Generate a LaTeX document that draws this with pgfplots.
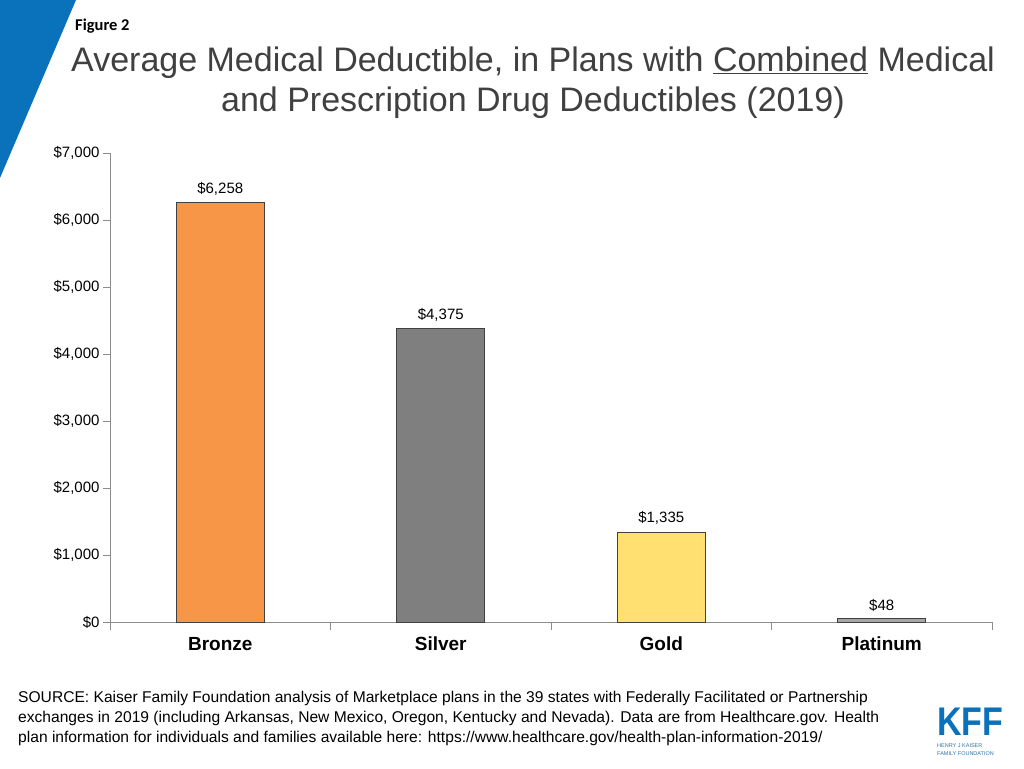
\documentclass[border=0pt]{standalone}
\usepackage{fontspec}
\setmainfont{Liberation Sans}
\newfontfamily\carlito{Carlito}
\usepackage{pgfplots}
\pgfplotsset{compat=1.18}
\definecolor{kblue}{HTML}{0A72BA}
\definecolor{titlegray}{HTML}{404040}
\definecolor{axgray}{HTML}{8C8C8C}
\definecolor{bronze}{HTML}{F79646}
\definecolor{silver}{HTML}{7F7F7F}
\definecolor{gold}{HTML}{FFE070}
\definecolor{plat}{HTML}{A6A6A6}
\begin{document}
\begin{tikzpicture}[x=1pt,y=1pt]
\useasboundingbox (0,0) rectangle (1024,768);
\fill[white] (0,0) rectangle (1024,768);
\fill[kblue] (0,768) -- (76,768) -- (0,590) -- cycle;
\node[anchor=west, inner sep=0pt, font=\carlito\bfseries\fontsize{16.5}{19}\selectfont] at (75,742) {Figure 2};
\node[align=center, inner sep=0pt, text=titlegray, font=\fontsize{34}{40}\selectfont] at (533,685) {Average Medical Deductible, in Plans with \underline{Combined} Medical\\and Prescription Drug Deductibles (2019)};
\begin{axis}[
  at={(110pt,146pt)}, anchor=south west,
  width=882pt, height=469pt, scale only axis,
  xmin=-0.5, xmax=3.5, ymin=0, ymax=7000,
  axis x line*=bottom, axis y line*=left,
  axis line style={axgray, line width=0.8pt},
  every tick/.style={axgray, line width=0.8pt},
  tick align=outside,
  xtick={0,1,2,3},
  xticklabels={Bronze,Silver,Gold,Platinum},
  major x tick style={draw=none},
  minor xtick={-0.5,0.5,1.5,2.5,3.5},
  minor tick length=8pt,
  major tick length=7pt,
  x tick label style={font=\bfseries\fontsize{19}{22}\selectfont, anchor=base, yshift=-22pt},
  ytick={0,1000,...,7000},
  yticklabel={\$\pgfmathprintnumber{\tick}},
  y tick label style={font=\fontsize{15}{18}\selectfont},
  /pgf/number format/assume math mode=true,
  /pgf/number format/1000 sep={,},
  ybar, bar width=88pt, bar shift=0pt,
  nodes near coords={\$\pgfmathprintnumber{\pgfplotspointmeta}},
  every node near coord/.append style={font=\fontsize{15}{18}\selectfont, text=black, yshift=4pt},
  clip=false,
]
\addplot[fill=bronze, draw=black!75, line width=0.8pt] coordinates {(0,6258)};
\addplot[fill=silver, draw=black!75, line width=0.8pt] coordinates {(1,4375)};
\addplot[fill=gold, draw=black!75, line width=0.8pt] coordinates {(2,1335)};
\addplot[fill=plat, draw=black!75, line width=0.8pt] coordinates {(3,48)};
\end{axis}
\node[anchor=north west, align=left, inner sep=0pt, font=\fontsize{15.6}{20}\selectfont] at (18,77) {SOURCE: Kaiser Family Foundation analysis of Marketplace plans in the 39 states with Federally Facilitated or Partnership\\exchanges in 2019 (including Arkansas, New Mexico, Oregon, Kentucky and Nevada). Data are from Healthcare.gov. Health\\plan information for individuals and families available here: https://www.healthcare.gov/health-plan-information-2019/};
\node[anchor=south west, inner sep=0pt, xscale=0.85, text=kblue, font=\bfseries\fontsize{40}{40}\selectfont] at (937,32) {KFF};
\node[anchor=base west, inner sep=0pt, text=kblue!70!gray, font=\fontsize{5.5}{6}\selectfont] at (937,20.5) {HENRY J KAISER};
\node[anchor=base west, inner sep=0pt, text=kblue!70!gray, font=\fontsize{5.5}{6}\selectfont] at (937,12.5) {FAMILY FOUNDATION};
\end{tikzpicture}
\end{document}
